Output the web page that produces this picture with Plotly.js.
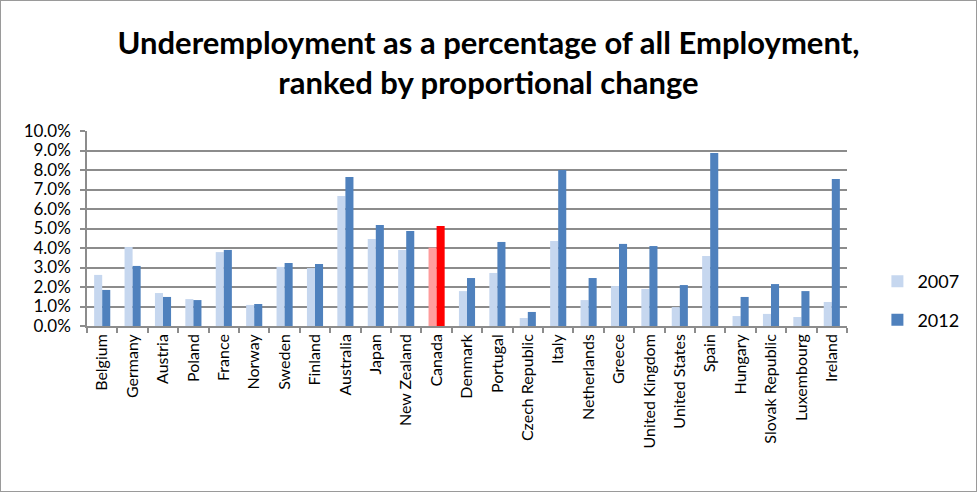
<!DOCTYPE html>
<html>
<head>
<meta charset="utf-8">
<script src="https://cdn.plot.ly/plotly-3.0.1.min.js"></script>
<style>
  html, body { margin: 0; padding: 0; background: #fff; }
  #chart { width: 975px; height: 490px; border: 1px solid #9a9a9a; }
</style>
</head>
<body>
<div id="chart"></div>
<script>
const countries = ["Belgium","Germany","Austria","Poland","France","Norway","Sweden","Finland","Australia","Japan","New Zealand","Canada","Denmark","Portugal","Czech Republic","Italy","Netherlands","Greece","United Kingdom","United States","Spain","Hungary","Slovak Republic","Luxembourg","Ireland"];
const values2007 = [2.62,4.05,1.69,1.38,3.79,1.08,3.03,2.97,6.67,4.46,3.90,4.02,1.79,2.72,0.41,4.36,1.33,2.05,1.90,0.97,3.59,0.51,0.62,0.46,1.23];
const values2012 = [1.85,3.08,1.49,1.33,3.90,1.13,3.23,3.18,7.64,5.18,4.87,5.13,2.46,4.31,0.72,8.00,2.46,4.21,4.10,2.10,8.87,1.49,2.15,1.79,7.54];
const yTickVals = [0,1,2,3,4,5,6,7,8,9,10];
const highlight = "Canada";

const c2007 = countries.map(c => c === highlight ? "#FF9C9C" : "#C6D7EF");
const c2012 = countries.map(c => c === highlight ? "#FF0000" : "#4F81BD");

const data = [
  { type: "bar", name: "2007", x: countries, y: values2007, marker: { color: c2007 }, legendgroup: "a" },
  { type: "bar", name: "2012", x: countries, y: values2012, marker: { color: c2012 }, legendgroup: "b" }
];

const layout = {
  width: 975, height: 490,
  margin: { l: 86, r: 126, t: 130, b: 165 },
  paper_bgcolor: "#fff", plot_bgcolor: "#fff",
  font: { family: "Lato, 'Open Sans', sans-serif", color: "#000", size: 17 },
  title: {
    text: "<b>Underemployment as a percentage of all Employment,<br>ranked by proportional change</b>",
    font: { family: "Lato, 'Open Sans', sans-serif", size: 31, color: "#000" },
    x: 0.5, xanchor: "center", xref: "container",
    y: 0.892, yanchor: "middle", yref: "container"
  },
  barmode: "group",
  bargap: 0.47,
  bargroupgap: 0,
  showlegend: true,
  legend: {
    x: 1.04, xanchor: "left", y: 0.13, yanchor: "middle",
    font: { size: 18 }, tracegroupgap: 12, traceorder: "grouped",
    bgcolor: "rgba(0,0,0,0)"
  },
  xaxis: {
    type: "category",
    tickangle: -90,
    ticks: "outside", ticklen: 5, tickcolor: "#8c8c8c", tickwidth: 1.5,
    tickson: "boundaries",
    showline: true, linecolor: "#8c8c8c", linewidth: 1.5,
    showgrid: false,
    tickfont: { size: 16 }
  },
  yaxis: {
    range: [0, 10],
    tickvals: yTickVals,
    ticktext: yTickVals.map(v => v.toFixed(1) + "%"),
    ticks: "outside", ticklen: 5, tickcolor: "#8c8c8c", tickwidth: 1.5,
    ticklabelstandoff: 6,
    showgrid: true, gridcolor: "#8c8c8c", gridwidth: 1.5,
    showline: true, linecolor: "#8c8c8c", linewidth: 1.5,
    zeroline: false,
    tickfont: { size: 17 }
  }
};

Plotly.newPlot("chart", data, layout, { displayModeBar: false, responsive: false });
</script>
</body>
</html>
